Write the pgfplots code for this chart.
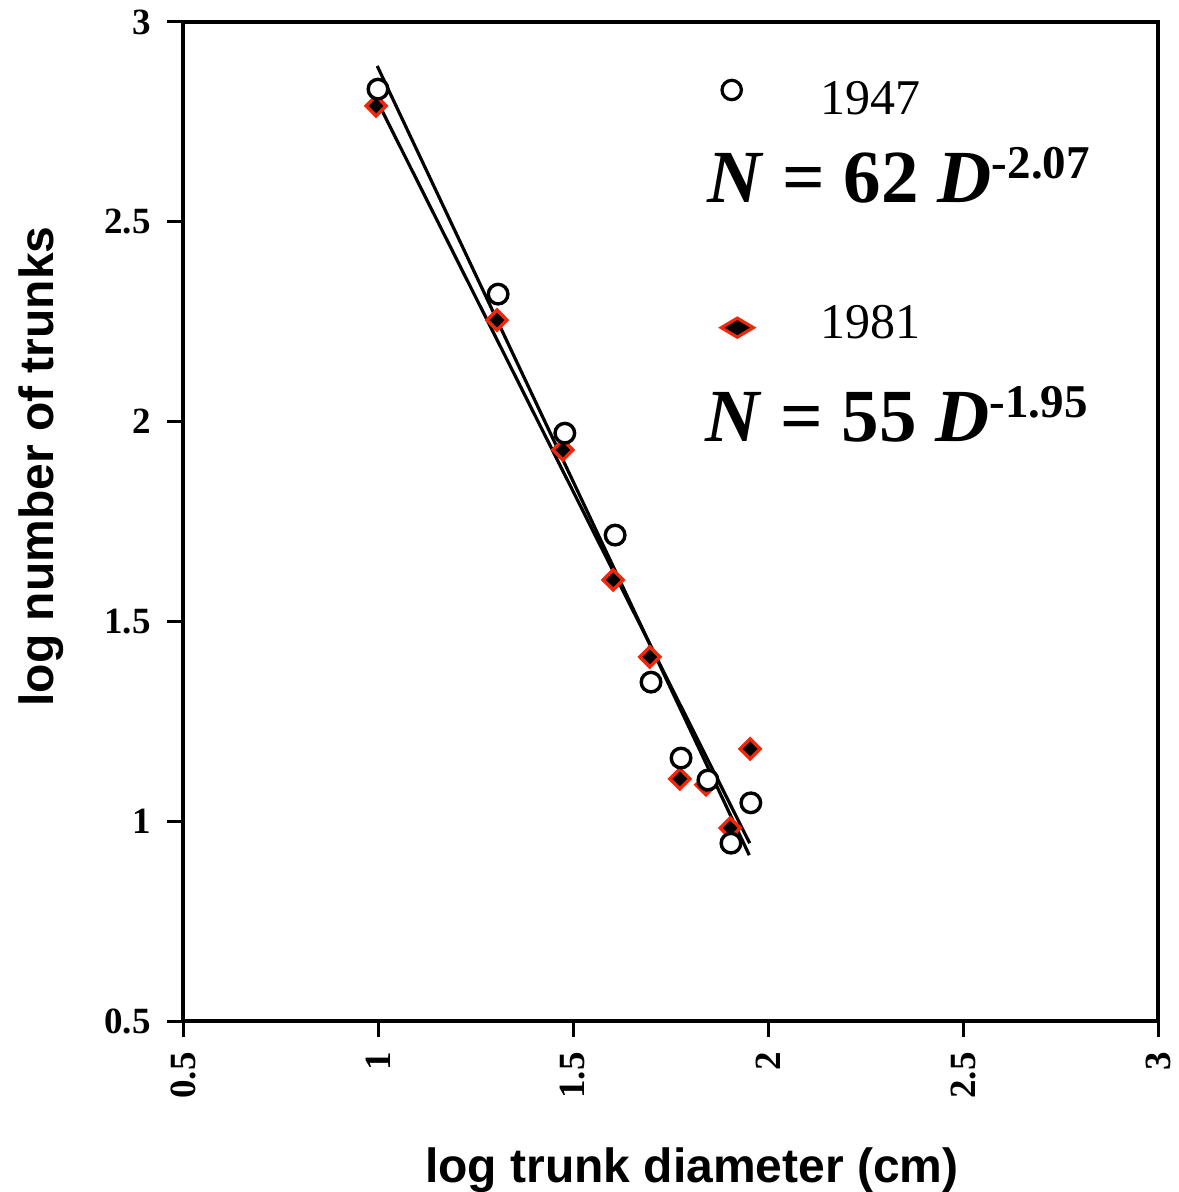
\documentclass[border=0pt]{standalone}
\usepackage{fontspec}
\setmainfont{Liberation Serif}
\setsansfont{Liberation Sans}
\usepackage{pgfplots}
\usepackage{pgfplotstable}
\pgfplotsset{compat=1.18}
\definecolor{dred}{RGB}{240,40,10}

% 1947 (open circles)
\pgfplotstableread{
x y
1.000 2.832
1.308 2.319
1.479 1.971
1.608 1.716
1.700 1.348
1.777 1.158
1.846 1.103
1.905 0.945
1.956 1.046
}\tabA
% 1981 (filled diamonds)
\pgfplotstableread{
x y
0.995 2.790
1.305 2.254
1.474 1.929
1.603 1.604
1.697 1.411
1.774 1.106
1.841 1.091
1.903 0.983
1.954 1.181
}\tabB

\begin{document}
\begin{tikzpicture}
\useasboundingbox (0,0) rectangle (589pt,596pt);
\begin{axis}[
  at={(91.5pt,85.5pt)}, anchor=south west,
  scale only axis, width=487.5pt, height=499.5pt,
  xmin=0.5, xmax=3, ymin=0.5, ymax=3,
  xtick={0.5,1,1.5,2,2.5,3}, ytick={0.5,1,1.5,2,2.5,3},
  xticklabels={0.5,1,1.5,2,2.5,3}, yticklabels={0.5,1,1.5,2,2.5,3},
  axis line style={line width=2pt, black},
  tick style={line width=1.5pt, black},
  major tick length=8pt,
  tick align=outside, xtick pos=bottom, ytick pos=left,
  /pgf/number format/assume math mode=true,
  ticklabel style={font=\bfseries\fontsize{18.5}{18.5}\selectfont},
  xticklabel style={rotate=90, anchor=east, inner xsep=7.5pt},
  yticklabel style={anchor=east, inner xsep=8pt},
  xlabel={log trunk diameter (cm)},
  ylabel={log number of trunks},
  xlabel style={font=\sffamily\bfseries\fontsize{24}{24}\selectfont, at={(rel axis cs:0.522,-0.16216)}, anchor=base, inner sep=0pt},
  ylabel style={font=\sffamily\bfseries\fontsize{24}{24}\selectfont, at={(rel axis cs:-0.13333,0.555)}, anchor=base, inner sep=0pt},
  legend style={at={(axis cs:1.8454,2.8804)}, anchor=north west, draw=none, fill=none,
    inner sep=0pt, outer sep=0pt, row sep=82pt, column sep=0pt,
    font=\fontsize{25}{25}\selectfont, nodes={inner sep=0pt, outer sep=0pt}, cells={anchor=west}},
]
\addlegendimage{legend image code/.code={
  \path[draw=none, fill=none] (-12pt,-15pt) rectangle (44.2pt,15pt);
  \draw[only marks, mark=*, mark size=4.85pt, mark options={draw=black, fill=white, line width=1.6pt}] plot coordinates {(0pt,4.9pt)};}}
\addlegendentry{1947}

\addplot[only marks, mark=diamond*, mark size=5pt,
  mark options={draw=dred, fill=black, line width=1.7pt, xscale=1.33},
  legend image code/.code={
  \path[draw=none, fill=none] (-12pt,-15pt) rectangle (44.2pt,15pt);
  \draw[only marks, mark=diamond*, mark size=4.75pt, mark options={draw=dred, fill=black, line width=1.6pt, xscale=2.25}] plot coordinates {(2.8pt,-1.95pt)};}
] table {\tabB};
\addlegendentry{1981}

\addplot[only marks, mark=*, mark size=4.9pt,
  mark options={draw=black, fill=white, line width=1.7pt}, forget plot] table {\tabA};

\addplot[black, line width=1.6pt, no marks, forget plot] coordinates {(0.998,2.890) (1.952,0.915)};
\addplot[black, line width=1.6pt, no marks, forget plot] coordinates {(0.995,2.808) (1.953,0.945)};

\node[anchor=base west, inner sep=0pt, font=\fontsize{37.5}{37.5}\selectfont\bfseries]
  at (axis cs:1.8436,2.5495) {\textit{N} = 62 \textit{D}\raisebox{11.9pt}{\fontsize{23.5}{23.5}\selectfont -2.07}};
\node[anchor=base west, inner sep=0pt, font=\fontsize{37.5}{37.5}\selectfont\bfseries]
  at (axis cs:1.838,1.9497) {\textit{N} = 55 \textit{D}\raisebox{11.9pt}{\fontsize{23.5}{23.5}\selectfont -1.95}};
\end{axis}
\end{tikzpicture}
\end{document}
